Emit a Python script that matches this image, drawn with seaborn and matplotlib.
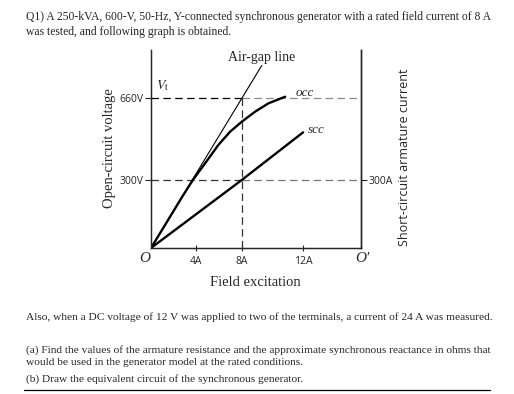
import numpy as np
import pandas as pd
import matplotlib
matplotlib.use("Agg")
import matplotlib.pyplot as plt
import seaborn as sns

# ── data ────────────────────────────────────────────────────────────────────
occ_if   = [0, 1.5, 2.7, 3.73, 4.76, 5.93, 6.97, 8.0, 9.17, 10.35, 11.82]   # field current, A
occ_v    = [0, 123, 222, 303, 373, 454, 513, 557, 601, 638, 667]            # open-circuit voltage, V
air_if   = [0, 8.0, 9.76]
air_v    = [0, 660, 805]
scc_if   = [0, 8.0, 13.4]
scc_i    = [0, 300, 510]                                   # short-circuit current, A

V_RATED  = 660
I_SC_REF = 300
IF_RATED = 8

x_ticks       = [4, 8, 13.4]
x_ticklabels  = ["4A", "8A", "12A"]
y_ticks       = [300, 660]
y_ticklabels  = ["300V", "660V"]
r_ticks       = [300]
r_ticklabels  = ["300A"]

XMAX, YMAX = 18.5, 873

# (baseline y in px, text)
top_lines = [
    (20.0, "Q1) A 250-kVA, 600-V, 50-Hz, Y-connected synchronous generator with a rated field current of 8 A"),
    (34.5, "was tested, and following graph is obtained."),
]
bottom_lines = [
    (319.5, "Also, when a DC voltage of 12 V was applied to two of the terminals, a current of 24 A was measured."),
    (352.5, "(a) Find the values of the armature resistance and the approximate synchronous reactance in ohms that"),
    (364.8, "would be used in the generator model at the rated conditions."),
    (381.7, "(b) Draw the equivalent circuit of the synchronous generator."),
]

# ── style ───────────────────────────────────────────────────────────────────
sns.set_style("ticks")
plt.rcParams["font.family"] = ["DejaVu Sans"]
plt.rcParams["mathtext.fontset"] = "stix"
SERIF = ["Liberation Serif", "DejaVu Serif"]
SANS = ["Open Sans", "DejaVu Sans"]

W, H = 514, 394
fig = plt.figure(figsize=(W / 100, H / 100), dpi=100)

def fx(px): return px / W
def fy(py): return 1 - py / H

ax = fig.add_axes([fx(151), fy(248), (361 - 151) / W, (248 - 50) / H])
ax.set_xlim(0, XMAX)
ax.set_ylim(0, YMAX)

occ = pd.DataFrame({"If": occ_if, "V": occ_v})
air = pd.DataFrame({"If": air_if, "V": air_v})
scc = pd.DataFrame({"If": scc_if, "I": scc_i})

DASH = (6, 3.5)
# reference dashed lines
ax.hlines(V_RATED, 0, IF_RATED, color="black", lw=0.9, linestyles=[(0, DASH)])
ax.hlines(V_RATED, IF_RATED, XMAX, color="#8a8a8a", lw=0.9, linestyles=[(0, DASH)])
ax.hlines(I_SC_REF, 0, IF_RATED, color="#333333", lw=0.9, linestyles=[(0, DASH)])
ax.hlines(I_SC_REF, IF_RATED, XMAX, color="#777777", lw=0.9, linestyles=[(0, DASH)])
ax.vlines(IF_RATED, 0, V_RATED, color="#333333", lw=0.9, linestyles=[(0, DASH)])

sns.lineplot(data=air, x="If", y="V", ax=ax, color="black", lw=0.8,
             sort=False, estimator=None)
sns.lineplot(data=occ, x="If", y="V", ax=ax, color="black", lw=1.7,
             sort=False, estimator=None)
sns.lineplot(data=scc, x="If", y="I", ax=ax, color="black", lw=1.7,
             sort=False, estimator=None)

ax.spines["top"].set_visible(False)
for s in ["left", "right", "bottom"]:
    ax.spines[s].set_linewidth(1.0)
ax.set_xlabel(""); ax.set_ylabel("")
ax.set_xticks(x_ticks)
ax.set_xticklabels(x_ticklabels, fontsize=7.5, family=SANS)
ax.set_yticks(y_ticks)
ax.set_yticklabels(y_ticklabels, fontsize=7.5, family=SANS)
ax.tick_params(axis="x", direction="inout", length=5, width=0.8, pad=3)
ax.tick_params(axis="y", direction="out", length=4, width=0.8, pad=1.5)

rax = ax.twinx()
rax.set_ylim(0, YMAX)
rax.set_yticks(r_ticks)
rax.set_yticklabels(r_ticklabels, fontsize=7.5, family=SANS)
rax.tick_params(axis="y", direction="out", length=4, width=0.8, pad=1.5)
rax.spines["top"].set_visible(False)
rax.spines["right"].set_linewidth(1.0)

# annotations
fig.text(fx(262), fy(58), "Air-gap line", family=SERIF, fontsize=10,
         ha="center", va="center")
fig.text(fx(163), fy(86), r"$V_\mathrm{t}$", fontsize=10, ha="center", va="center")
fig.text(fx(296), fy(93), "occ", family=SERIF, style="italic", fontsize=9.5,
         ha="left", va="center")
fig.text(fx(308), fy(130), "scc", family=SERIF, style="italic", fontsize=9.5,
         ha="left", va="center")
fig.text(fx(145), fy(259), "O", family=SERIF, style="italic", fontsize=11,
         ha="center", va="center")
fig.text(fx(362), fy(259), "O\u2032", family=SERIF, style="italic", fontsize=11,
         ha="center", va="center")
fig.text(fx(255), fy(282), "Field excitation", family=SERIF, fontsize=10.5,
         ha="center", va="center")
fig.text(fx(109), fy(148), "Open-circuit voltage", family=SERIF, fontsize=10.5,
         rotation=90, ha="center", va="center")
fig.text(fx(405), fy(157), "Short-circuit armature current", family=SANS,
         fontsize=9, rotation=90, ha="center", va="center")

# question text
for py, line in top_lines:
    fig.text(fx(26), fy(py), line, family=SERIF, fontsize=8.35,
             ha="left", va="baseline")
for py, line in bottom_lines:
    fig.text(fx(26), fy(py), line, family=SERIF, fontsize=8.2,
             ha="left", va="baseline")
fig.add_artist(plt.Line2D([fx(24), fx(490)], [fy(389.5), fy(389.5)],
                          color="black", lw=0.9))

fig.savefig("out.png", dpi=100)
